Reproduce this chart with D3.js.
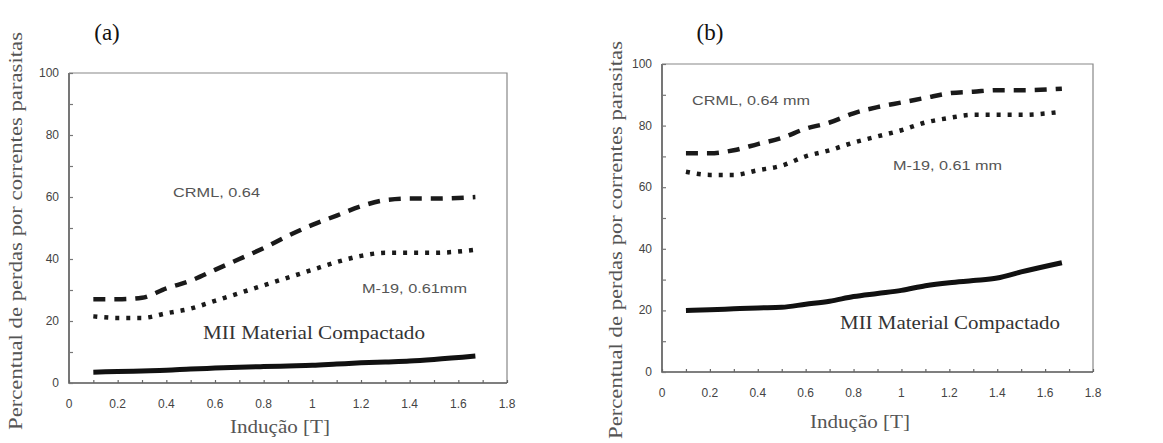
<!DOCTYPE html>
<html>
<head>
<meta charset="utf-8">
<script src="https://cdn.jsdelivr.net/npm/d3@7"></script>
<style>
  body { margin: 0; background: #fff; }
  svg { display: block; }
</style>
</head>
<body>
<div id="chart"></div>
<script>
// data
var inducao = [0.1, 0.2, 0.3, 0.4, 0.5, 0.6, 0.7, 0.8, 0.9, 1.0, 1.1, 1.2, 1.3, 1.4, 1.5, 1.67];

// (a)
var crmlA = [27, 27, 27.5, 30.5, 33, 36.5, 40, 43.5, 47.5, 51, 54, 57, 59, 59.5, 59.5, 60];
var m19A  = [21.5, 21, 21, 22.5, 24, 26.5, 29, 31.5, 34, 36.5, 39, 41, 42, 42, 42, 43];
var miiA  = [3.5, 3.7, 3.9, 4.1, 4.5, 4.8, 5.1, 5.3, 5.5, 5.7, 6.1, 6.5, 6.8, 7.1, 7.6, 8.7];

// (b)
var crmlB = [71, 71, 72, 74, 76, 79, 81, 84, 86, 87.5, 89, 90.5, 91, 91.5, 91.5, 92];
var m19B  = [65, 64, 64, 65.5, 67, 70, 72, 74.5, 76.5, 78.5, 81, 82.5, 83.5, 83.5, 83.5, 84.5];
var miiB  = [20, 20.2, 20.5, 20.8, 21, 22, 23, 24.5, 25.5, 26.5, 28, 29, 29.7, 30.5, 32.5, 35.5];

var xTicks = [0, 0.2, 0.4, 0.6, 0.8, 1, 1.2, 1.4, 1.6, 1.8];
var yTicks = [0, 20, 40, 60, 80, 100];

var panels = [
  { tag: "(a)", crml: crmlA, m19: m19A, mii: miiA,
    crmlText: "CRML, 0.64", m19Text: "M-19, 0.61mm",
    x0: 69, x1: 507, y0: 383, y1: 73 },
  { tag: "(b)", crml: crmlB, m19: m19B, mii: miiB,
    crmlText: "CRML, 0.64 mm", m19Text: "M-19, 0.61 mm",
    x0: 662, x1: 1093, y0: 372, y1: 64 }
];

var svg = d3.select("#chart")
    .append("svg")
    .attr("width", 1163)
    .attr("height", 443);

panels.forEach(function (p, k) {
    var x = d3.scaleLinear().domain([0, 1.8]).range([p.x0, p.x1]);
    var y = d3.scaleLinear().domain([0, 100]).range([p.y0, p.y1]);
    var g = svg.append("g");

    // frame: light top/right, darker left/bottom
    g.append("path")
        .attr("d", "M" + x(0) + "," + y(100) + "H" + x(1.8) + "V" + y(0))
        .attr("fill", "none").attr("stroke", "#888").attr("stroke-width", 1.2);
    g.append("path")
        .attr("d", "M" + x(0) + "," + y(100) + "V" + y(0) + "H" + x(1.8))
        .attr("fill", "none").attr("stroke", "#555").attr("stroke-width", 1.6);

    // left axis ticks (inside)
    var yAxis = g.append("g")
        .attr("transform", "translate(" + x(0) + ",0)")
        .call(d3.axisRight(y).tickValues(d3.range(0, 101, 10)).tickSize(4).tickFormat(""));
    yAxis.select(".domain").remove();
    yAxis.selectAll(".tick line").attr("stroke", "#777").attr("stroke-width", 1.2);

    // bottom axis ticks (inside)
    var xAxis = g.append("g")
        .attr("transform", "translate(0," + y(0) + ")")
        .call(d3.axisTop(x).tickValues(d3.range(0, 1.81, 0.1)).tickSize(3).tickFormat(""));
    xAxis.select(".domain").remove();
    xAxis.selectAll(".tick line").attr("stroke", "#666").attr("stroke-width", 1.2);

    // tick labels
    g.selectAll(".ylab").data(yTicks).enter().append("text")
        .attr("x", x(0) - 10)
        .attr("y", function (d) { return y(d) + 4; })
        .attr("text-anchor", "end")
        .style("font-family", "Liberation Sans, Arial, sans-serif")
        .style("font-size", "12px")
        .style("fill", "#444")
        .text(function (d) { return d; });
    g.selectAll(".xlab").data(xTicks).enter().append("text")
        .attr("x", function (d) { return x(d); })
        .attr("y", y(0) + 25)
        .attr("text-anchor", "middle")
        .style("font-family", "Liberation Sans, Arial, sans-serif")
        .style("font-size", "12px")
        .style("fill", "#444")
        .text(function (d) { return d; });

    // curves
    var line = function (vals) {
        return d3.line()
            .x(function (d, i) { return x(inducao[i]); })
            .y(function (d) { return y(d); })
            .curve(d3.curveMonotoneX)(vals);
    };
    g.append("path").attr("d", line(p.crml))
        .attr("fill", "none").attr("stroke", "#1a1a1a")
        .attr("stroke-width", 4.5).attr("stroke-dasharray", "12,9");
    g.append("path").attr("d", line(p.m19))
        .attr("fill", "none").attr("stroke", "#1a1a1a")
        .attr("stroke-width", 4.5).attr("stroke-dasharray", "4,7");
    g.append("path").attr("d", line(p.mii))
        .attr("fill", "none").attr("stroke", "#111")
        .attr("stroke-width", 5);

    // labels
    var lab = k === 0
        ? { crml: [173, 197, 87], m19: [362, 293, 105], mii: [203, 339, 222], tag: 107, xt: 280, xty: 433, ylx: 22, yly: 231 }
        : { crml: [692, 105, 118], m19: [893, 170, 109], mii: [840, 329, 220], tag: 710, xt: 860, xty: 428, ylx: 622, yly: 240 };

    g.append("text").attr("x", lab.crml[0]).attr("y", lab.crml[1])
        .attr("textLength", lab.crml[2]).attr("lengthAdjust", "spacingAndGlyphs")
        .style("font-family", "Liberation Sans, Arial, sans-serif").style("font-size", "13px")
        .style("fill", "#555").text(p.crmlText);
    g.append("text").attr("x", lab.m19[0]).attr("y", lab.m19[1])
        .attr("textLength", lab.m19[2]).attr("lengthAdjust", "spacingAndGlyphs")
        .style("font-family", "Liberation Sans, Arial, sans-serif").style("font-size", "13px")
        .style("fill", "#555").text(p.m19Text);
    g.append("text").attr("x", lab.mii[0]).attr("y", lab.mii[1])
        .attr("textLength", lab.mii[2]).attr("lengthAdjust", "spacingAndGlyphs")
        .style("font-family", "Liberation Serif, Times New Roman, serif").style("font-size", "19px")
        .style("fill", "#333").text("MII Material Compactado");

    g.append("text").attr("x", lab.tag).attr("y", 40)
        .attr("text-anchor", "middle")
        .style("font-family", "Liberation Serif, Times New Roman, serif").style("font-size", "23px")
        .style("fill", "#111").text(p.tag);

    g.append("text").attr("x", lab.xt).attr("y", lab.xty)
        .attr("text-anchor", "middle")
        .attr("textLength", 100).attr("lengthAdjust", "spacingAndGlyphs")
        .style("font-family", "Liberation Serif, Times New Roman, serif").style("font-size", "19px")
        .style("fill", "#555").text("Indução [T]");

    g.append("text")
        .attr("transform", "translate(" + lab.ylx + "," + lab.yly + ") rotate(-90)")
        .attr("text-anchor", "middle")
        .attr("textLength", 398).attr("lengthAdjust", "spacingAndGlyphs")
        .style("font-family", "Liberation Serif, Times New Roman, serif").style("font-size", "18px")
        .style("fill", "#555").text("Percentual de perdas por correntes parasitas");
});
</script>
</body>
</html>
